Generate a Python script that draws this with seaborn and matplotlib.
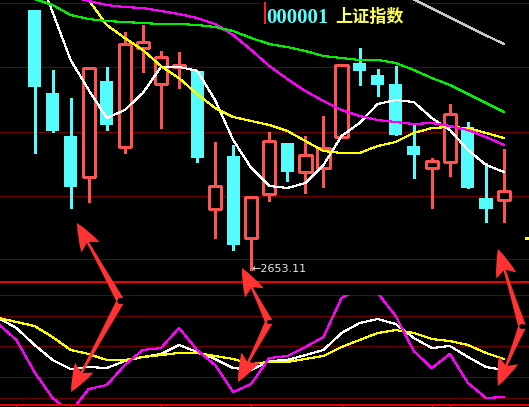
import numpy as np
import pandas as pd
import matplotlib
matplotlib.use('Agg')
import matplotlib.pyplot as plt
import seaborn as sns
from matplotlib.patches import Rectangle

nan = np.nan

# daily bars, index 0..26
open_ = [3043.1, 2918.6, 2854.1, 2792.6, 2936.6, 2837.6, 2986.1, 2932.1, 2957.6, 2951.6,
         2744.6, 2824.1, 2701.1, 2767.1, 2843.6, 2800.1, 2806.1, 2852.6, 2963.6, 2945.6,
         2932.1, 2839.1, 2806.1, 2815.1, 2867.6, 2761.1, 2758.1]
high = [3043.1, 2953.1, 2911.1, 2956.1, 2957.6, 3010.1, 3020.6, 2981.6, 2980.1, 2951.6,
        2845.1, 2840.6, 2762.6, 2860.1, 2843.6, 2854.1, 2884.1, 2960.6, 2986.1, 2954.6,
        2959.1, 2873.6, 2821.1, 2902.1, 2875.1, 2813.6, 2834.6]
low = [2828.6, 2860.1, 2746.1, 2755.1, 2863.1, 2828.6, 2950.1, 2866.1, 2926.1, 2815.1,
       2701.1, 2683.1, 2653.11, 2756.6, 2786.6, 2768.6, 2777.6, 2852.6, 2930.6, 2914.1,
       2855.6, 2791.1, 2746.1, 2794.1, 2776.1, 2725.1, 2725.1]
close = [2927.6, 2861.6, 2777.6, 2956.1, 2870.6, 2992.1, 2995.1, 2972.6, 2960.6, 2821.1,
         2779.1, 2690.6, 2762.6, 2846.6, 2800.1, 2825.6, 2836.1, 2960.6, 2951.6, 2930.6,
         2855.6, 2825.6, 2816.6, 2887.1, 2776.1, 2744.6, 2771.6]

# moving averages
ma5 = [3110.6, 3040.1, 2968.1, 2923.1, 2881.1, 2893.1, 2918.6, 2957.6, 2957.6, 2952.1,
       2908.1, 2848.1, 2806.1, 2779.1, 2776.1, 2783.6, 2810.6, 2854.1, 2873.6, 2902.1,
       2908.1, 2905.1, 2881.1, 2863.1, 2833.1, 2810.6, 2800.1]
ma10 = [3193.1, 3148.1, 3103.1, 3058.1, 3020.6, 3001.1, 2983.1, 2959.1, 2941.1, 2917.1,
        2896.1, 2882.6, 2876.6, 2870.6, 2861.6, 2846.6, 2831.6, 2828.6, 2828.6, 2839.1,
        2845.1, 2858.6, 2866.1, 2867.6, 2866.1, 2858.6, 2851.1]
ma20 = [3088.1, 3076.1, 3064.1, 3056.6, 3050.6, 3047.6, 3046.1, 3041.6, 3037.1, 3031.1,
        3022.1, 3005.6, 2983.1, 2959.1, 2939.6, 2921.6, 2906.6, 2893.1, 2884.1, 2878.1,
        2875.1, 2872.1, 2873.6, 2869.1, 2863.1, 2852.6, 2840.6]
ma30 = [3059.6, 3050.6, 3035.6, 3029.6, 3026.6, 3025.1, 3023.6, 3022.1, 3022.1, 3020.6,
        3017.6, 3011.6, 3001.1, 2992.1, 2987.6, 2981.6, 2974.1, 2971.1, 2968.1, 2968.1,
        2963.6, 2953.1, 2941.1, 2930.6, 2917.1, 2903.6, 2890.1]
ma60 = [nan] * 20 + [3072.4, 3058.9, 3045.4, 3031.9, 3018.4, 3004.9, 2992.1]

# KDJ, two bars earlier than the candles (index -2..26)
kdj_idx = list(range(-2, 27))
k_val = [77.7, 68.0, 51.5, 36.9, 28.2, 30.1, 29.1, 35.9, 39.8, 42.7, 51.5, 44.7, 37.9, 29.1,
         27.2, 35.9, 36.9, 41.7, 46.6, 63.1, 72.8, 76.7, 71.8, 58.3, 48.5, 50.5, 39.8, 30.1, 27.2]
d_val = [77.7, 73.8, 69.9, 59.2, 46.6, 42.7, 36.9, 36.9, 39.8, 41.7, 43.7, 43.7, 40.8, 37.9,
         33.0, 35.0, 35.0, 37.9, 40.8, 49.5, 56.3, 63.1, 66.0, 63.1, 57.3, 55.3, 51.5, 43.7, 37.9]
j_val = [71.8, 56.3, 25.2, 0.0, -13.6, 8.7, 12.6, 32.0, 46.6, 48.5, 68.0, 46.6, 32.0, 5.8,
         13.6, 38.8, 40.8, 49.5, 59.2, 97.1, 106.8, 101.9, 79.6, 45.6, 29.1, 42.7, 14.6, 0.0, 1.0]

grid_main = [3053.1, 2957.2, 2860.6, 2764.6, 2669.1]
grid_kdj = [0, 20, 50, 80, 100]
week_ticks = [-1, 2, 7, 12, 17, 22, 23]
last_mark = 2701.1
title_code = '000001'
title_name = '上证指数'

UP = '#ff5252'
DOWN = '#54fcfc'
GRID = '#6e0000'
BRIGHT = '#e60000'

sns.set_theme(style='dark', rc={'axes.facecolor': 'black', 'figure.facecolor': 'black',
                                'lines.antialiased': False, 'patch.antialiased': False})

fig = plt.figure(figsize=(5.29, 4.07), dpi=100)
ax = fig.add_axes([0, 1 - 282 / 407, 1, 282 / 407])
ax2 = fig.add_axes([0, 2 / 407, 1, 110 / 407])

xlim = (-34.5 / 18.06, (529 - 34.5) / 18.06)

# ---- main panel ----
for g in grid_main:
    ax.axhline(g, color=GRID, lw=0.7, zorder=0)

idx = np.arange(len(open_))
o = np.array(open_); c = np.array(close); h = np.array(high); l = np.array(low)
up = c >= o
bw = 0.68
body_lo = np.minimum(o, c)
body_hi = np.maximum(o, c)

# wicks
ax.vlines(idx[~up], l[~up], h[~up], color=DOWN, lw=0.8, zorder=2)
ax.vlines(idx[up], body_hi[up], h[up], color=UP, lw=0.8, zorder=2)
ax.vlines(idx[up], l[up], body_lo[up], color=UP, lw=0.8, zorder=2)
# bodies
ax.bar(idx[~up], (body_hi - body_lo)[~up], bottom=body_lo[~up], width=bw + 0.04,
       color=DOWN, edgecolor=DOWN, lw=0, zorder=3)
ax.bar(idx[up], np.maximum((body_hi - body_lo)[up], 0.5), bottom=body_lo[up], width=bw,
       facecolor='black', edgecolor=UP, lw=0.8, zorder=3)

ma = pd.DataFrame({'idx': np.tile(idx, 5),
                   'price': ma5 + ma10 + ma20 + ma30 + ma60,
                   'line': np.repeat(['ma5', 'ma10', 'ma20', 'ma30', 'ma60'], len(idx))}).dropna()
ma_colors = {'ma5': '#ffffff', 'ma10': '#ffff00', 'ma20': '#ff00ff', 'ma30': '#00ee00', 'ma60': '#c8c8c8'}
sns.lineplot(data=ma, x='idx', y='price', hue='line', palette=ma_colors, estimator=None,
             legend=False, lw=0.8, ax=ax, zorder=4)

# lowest price marker
lo_i = int(np.argmin(l))
ax.annotate(f'\u2190{l[lo_i]:.2f}', xy=(lo_i, l[lo_i]), xytext=(0, 1), textcoords='offset points',
            ha='left', va='center', color='#e6e6e6', fontsize=8, family='DejaVu Sans')
ax.axhline(last_mark, xmin=0.992, xmax=1, color='#ffff00', lw=0.8)

ax.set_xlim(*xlim)
ax.set_ylim(2635.1, 3058.1)
ax.set_xticks([]); ax.set_yticks([])
ax.set_xlabel(''); ax.set_ylabel('')
for s in ['top', 'left', 'right']:
    ax.spines[s].set_visible(False)
ax.spines['bottom'].set_color(BRIGHT)
ax.spines['bottom'].set_linewidth(1.4)

# ---- KDJ panel ----
for g in grid_kdj:
    ax2.axhline(g, color=GRID, lw=0.7, zorder=0, clip_on=False)
kdj = pd.DataFrame({'idx': kdj_idx * 3, 'val': k_val + d_val + j_val,
                    'line': ['K'] * 29 + ['D'] * 29 + ['J'] * 29})
sns.lineplot(data=kdj, x='idx', y='val', hue='line',
             palette={'K': '#ffffff', 'D': '#ffff00', 'J': '#ff00ff'},
             estimator=None, legend=False, lw=0.8, ax=ax2)
ax2.set_xlim(*xlim)
ax2.set_ylim(-6.8, 100)
ax2.set_yticks([])
ax2.set_xticks(week_ticks)
ax2.tick_params(axis='x', bottom=True, direction='out', length=2, width=0.8,
                color=BRIGHT, labelbottom=False)
ax2.set_xlabel(''); ax2.set_ylabel('')
for s in ['top', 'left', 'right']:
    ax2.spines[s].set_visible(False)
ax2.spines['bottom'].set_color(BRIGHT)
ax2.spines['bottom'].set_linewidth(1.4)

# ---- overlay in pixel coordinates: title and arrows ----
ov = fig.add_axes([0, 0, 1, 1])
ov.set_xlim(0, 529); ov.set_ylim(407, 0)
ov.axis('off')
ov.patch.set_alpha(0)
ov.add_patch(Rectangle((262, 0), 146, 27, color='black', zorder=1))
ov.plot([264.5, 264.5], [3, 23], color='#ff2020', lw=1.2, zorder=2)
ov.text(266, 23, title_code, color='#55ffff', fontsize=15, family='Liberation Serif',
        fontweight='bold', va='baseline', ha='left', zorder=3)
ov.text(335, 21.5, title_name, color='#ffff55', fontsize=12.3, family=['Noto Sans CJK SC'],
        fontweight='bold', va='baseline', ha='left', zorder=3)

arrows = [((120, 300), (77, 223)), ((120, 302), (71, 392)),
          ((269, 322), (242, 268)), ((269, 322), (238, 382)),
          ((522, 326), (498, 249)), ((522, 327), (498, 386))]
for tail, tip in arrows:
    ov.annotate('', xy=tip, xytext=tail,
                arrowprops=dict(arrowstyle='fancy,head_length=1.0,head_width=0.75,tail_width=0.28',
                                fc='#ff3333', ec='none', mutation_scale=20,
                                shrinkA=0, shrinkB=0, antialiased=True))

fig.savefig('out.png', dpi=100, facecolor='black')
